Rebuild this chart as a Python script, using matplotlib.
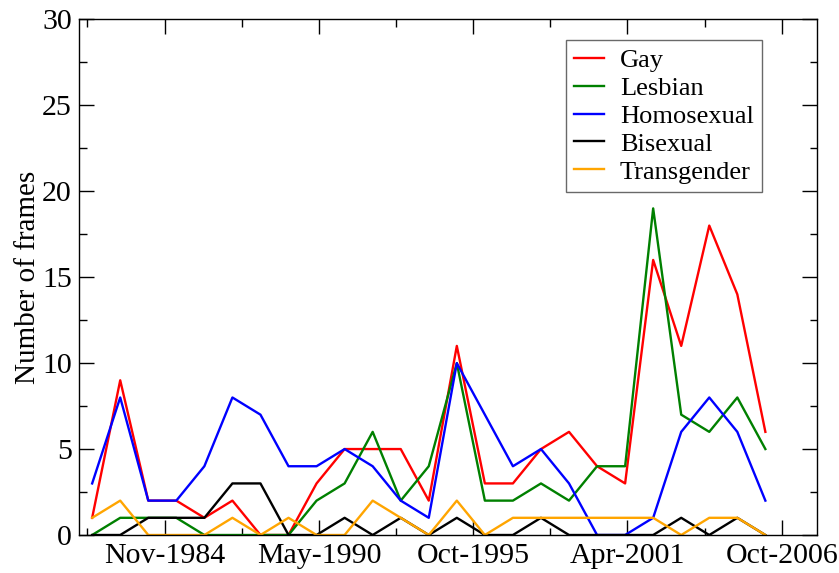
import numpy as np
import matplotlib
matplotlib.use('Agg')
import matplotlib.pyplot as plt
from matplotlib.ticker import MultipleLocator

# yearly counts, first point ~ April 1982
years = np.arange(1982, 2007) + 0.25

gay = [1, 9, 2, 2, 1, 2, 0, 0, 3, 5, 5, 5, 2, 11, 3, 3, 5, 6, 4, 3, 16, 11, 18, 14, 6]
lesbian = [0, 1, 1, 1, 0, 0, 0, 0, 2, 3, 6, 2, 4, 10, 2, 2, 3, 2, 4, 4, 19, 7, 6, 8, 5]
homosexual = [3, 8, 2, 2, 4, 8, 7, 4, 4, 5, 4, 2, 1, 10, 7, 4, 5, 3, 0, 0, 1, 6, 8, 6, 2]
bisexual = [0, 0, 1, 1, 1, 3, 3, 0, 0, 1, 0, 1, 0, 1, 0, 0, 1, 0, 0, 0, 0, 1, 0, 1, 0]
transgender = [1, 2, 0, 0, 0, 1, 0, 1, 0, 0, 2, 1, 0, 2, 0, 1, 1, 1, 1, 1, 1, 0, 1, 1, 0]

series_names = ['Gay', 'Lesbian', 'Homosexual', 'Bisexual', 'Transgender']
series_colors = ['red', 'green', 'blue', 'black', 'orange']

tick_dates = [1984 + 10/12, 1990 + 4/12, 1995 + 10/12, 2001 + 4/12, 2006 + 10/12]
tick_labels = ['Nov-1984', 'May-1990', 'Oct-1995', 'Apr-2001', 'Oct-2006']

plt.rcParams['font.family'] = ['Liberation Serif', 'DejaVu Serif']

fig = plt.figure(figsize=(8.39, 5.73), dpi=100)
ax = fig.add_axes([78.7/839, 38/573, (816.7 - 78.7)/839, (535 - 19.3)/573])

for vals, name, col in zip([gay, lesbian, homosexual, bisexual, transgender],
                           series_names, series_colors):
    ax.plot(years, vals, color=col, linewidth=1.7, label=name)

ax.set_xlim(1981.77, 2008.08)
ax.set_ylim(0, 30)

ax.set_xticks(tick_dates)
ax.set_xticklabels(tick_labels)
ax.set_xticks([d - 2.75 for d in tick_dates], minor=True)
ax.yaxis.set_major_locator(MultipleLocator(5))
ax.yaxis.set_minor_locator(MultipleLocator(2.5))

ax.tick_params(which='both', direction='in', top=True, right=True, width=1.0)
ax.tick_params(which='major', length=10.8, labelsize=21.5, pad=6)
ax.tick_params(which='minor', length=5.4)
ax.tick_params(axis='y', pad=5)
for sp in ax.spines.values():
    sp.set_linewidth(1.0)

ax.set_ylabel('Number of frames', fontsize=21, labelpad=1)

leg = ax.legend(loc='upper right', bbox_to_anchor=(0.9255, 0.959), borderaxespad=0,
                fontsize=19, frameon=True, fancybox=False, labelspacing=0.17,
                handlelength=1.15, handletextpad=0.6, borderpad=0.3)
leg.get_frame().set_edgecolor('#444444')
leg.get_frame().set_linewidth(1.0)

fig.savefig('out.png', dpi=100)
